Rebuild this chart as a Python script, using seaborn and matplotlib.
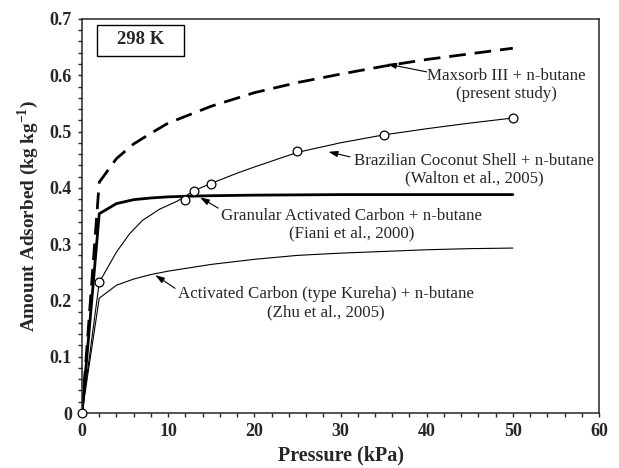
import matplotlib
matplotlib.use("Agg")
import matplotlib.pyplot as plt
from matplotlib.patches import Rectangle
from matplotlib.ticker import MultipleLocator, FixedLocator, FixedFormatter
import numpy as np
import pandas as pd
import seaborn as sns

# Isotherm data at 298 K (pressure in kPa, uptake in kg/kg)
maxsorb_p = [0, 2, 4, 6, 8, 10, 15, 20, 25, 30, 35, 40, 45, 50]
maxsorb_q = [0, 0.410, 0.452, 0.478, 0.497, 0.515, 0.545, 0.569, 0.587,
             0.602, 0.616, 0.628, 0.638, 0.648]

coconut_fit_p = [0, 2, 4, 5.5, 7, 9, 11, 12, 13, 15, 18, 20, 25, 30, 35, 40, 45, 50]
coconut_fit_q = [0, 0.232, 0.286, 0.318, 0.342, 0.362, 0.376, 0.385, 0.395,
                 0.408, 0.426, 0.437, 0.463, 0.480, 0.494, 0.505, 0.515, 0.524]
coconut_exp_p = [0, 2, 12, 13, 15, 25, 35, 50]
coconut_exp_q = [0, 0.233, 0.378, 0.395, 0.407, 0.465, 0.494, 0.524]

granular_p = [0, 2, 4, 6, 8, 10, 12, 15, 20, 30, 40, 50]
granular_q = [0, 0.354, 0.372, 0.379, 0.382, 0.384, 0.385, 0.386, 0.387,
              0.388, 0.388, 0.388]

kureha_p = [0, 2, 4, 6, 8, 10, 15, 20, 25, 30, 35, 40, 45, 50]
kureha_q = [0, 0.204, 0.227, 0.238, 0.246, 0.252, 0.264, 0.273, 0.280,
            0.284, 0.287, 0.290, 0.292, 0.293]

x_ticks = [0, 10, 20, 30, 40, 50, 60]
y_ticks = [0, 0.1, 0.2, 0.3, 0.4, 0.5, 0.6, 0.7]
y_tick_labels = ["0", "0.1", "0.2", "0.3", "0.4", "0.5", "0.6", "0.7"]

sns.set_style("ticks")
plt.rcParams["font.family"] = ["Liberation Serif", "DejaVu Serif"]
plt.rcParams["mathtext.fontset"] = "custom"
plt.rcParams["mathtext.rm"] = "Liberation Serif"
plt.rcParams["mathtext.bf"] = "Liberation Serif:bold"

fig = plt.figure(figsize=(6.19, 4.68), dpi=100)
ax = fig.add_axes([0.1325, 0.1175, 0.8352, 0.842])

sns.lineplot(x=maxsorb_p, y=maxsorb_q, ax=ax, color="black", lw=2.0, sort=False)
ax.lines[-1].set_dashes((6, 3.2))
sns.lineplot(x=coconut_fit_p, y=coconut_fit_q, ax=ax, color="black", lw=0.8, sort=False)
sns.scatterplot(x=coconut_exp_p, y=coconut_exp_q, ax=ax, marker="o", s=40,
                facecolor="white", edgecolor="black", linewidth=0.9, zorder=5,
                clip_on=False)
sns.lineplot(x=granular_p, y=granular_q, ax=ax, color="black", lw=2.0, sort=False)
sns.lineplot(x=kureha_p, y=kureha_q, ax=ax, color="black", lw=0.8, sort=False)

ax.set_xlim(0, 60)
ax.set_ylim(0, 0.7)
ax.xaxis.set_major_locator(FixedLocator(x_ticks))
ax.xaxis.set_minor_locator(MultipleLocator(2))
ax.yaxis.set_major_locator(FixedLocator(y_ticks))
ax.yaxis.set_major_formatter(FixedFormatter(y_tick_labels))
ax.yaxis.set_minor_locator(MultipleLocator(0.02))
ax.tick_params(which="both", direction="out", length=3.2, width=1.0,
               labelsize=13, pad=4)
for lab in ax.get_xticklabels() + ax.get_yticklabels():
    lab.set_fontweight("bold")
for sp in ax.spines.values():
    sp.set_linewidth(1.1)
    sp.set_visible(True)

ax.set_xlabel("Pressure (kPa)", fontsize=14.5, fontweight="bold", labelpad=4)
ax.set_ylabel(r"Amount Adsorbed (kg kg$^{\mathbf{-1}}$)", fontsize=13.9,
              fontweight="bold", labelpad=6)

# Temperature label box
ax.add_patch(Rectangle((0.029, 0.906), 0.168, 0.079, transform=ax.transAxes,
                       fill=False, edgecolor="black", lw=1.0, zorder=6))
ax.text(0.113, 0.949, "298 K", transform=ax.transAxes, ha="center", va="center",
        fontsize=13.5, fontweight="bold")

arrow = dict(arrowstyle="-|>,head_length=0.55,head_width=0.18", color="black",
             lw=0.8, shrinkA=0, shrinkB=0)
labels = [
    ("Maxsorb III + n-butane\n(present study)", (49.3, 0.582), (35.4, 0.620), (40.0, 0.606)),
    ("Brazilian Coconut Shell + n-butane\n(Walton et al., 2005)", (45.5, 0.432), (28.6, 0.464), (31.1, 0.455)),
    ("Granular Activated Carbon + n-butane\n(Fiani et al., 2000)", (31.3, 0.334), (13.7, 0.383), (15.8, 0.364)),
    ("Activated Carbon (type Kureha) + n-butane\n(Zhu et al., 2005)", (28.3, 0.195), (8.5, 0.245), (10.8, 0.2215)),
]
for txt, pos, tip, tail in labels:
    ax.text(pos[0], pos[1], txt, ha="center", va="center", fontsize=12.2,
            linespacing=1.15, multialignment="center")
    ax.annotate("", xy=tip, xytext=tail, arrowprops=arrow)

fig.savefig("out.png", dpi=100)
